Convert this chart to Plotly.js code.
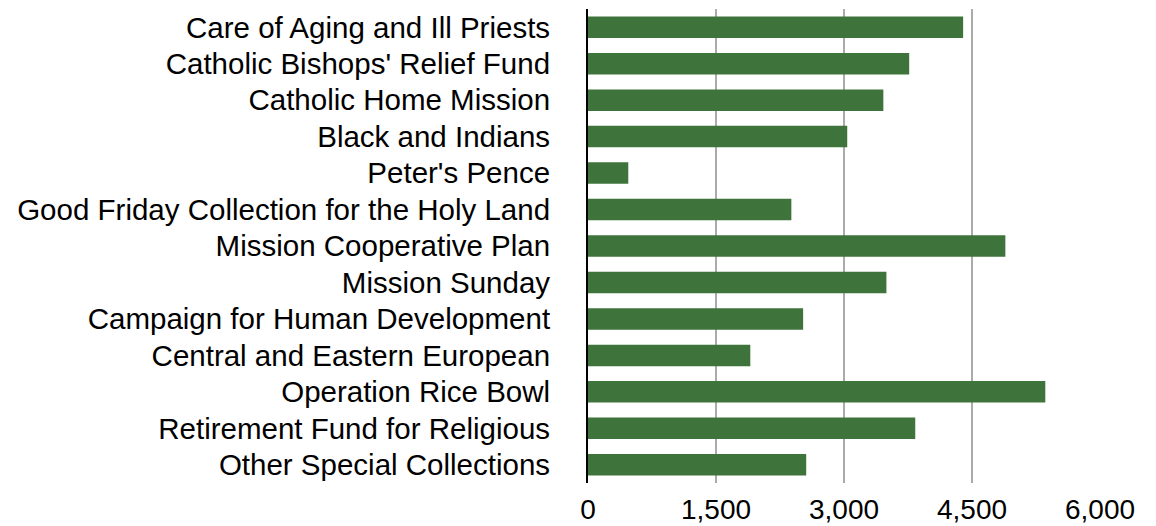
<!DOCTYPE html>
<html>
<head>
<meta charset="utf-8">
<script src="https://cdn.plot.ly/plotly-3.0.1.min.js"></script>
<style>html,body{margin:0;padding:0;background:#fff;}#chart{width:1156px;height:526px;}</style>
</head>
<body>
<div id="chart"></div>
<script>
const categories = [
  "Care of Aging and Ill Priests",
  "Catholic Bishops' Relief Fund",
  "Catholic Home Mission",
  "Black and Indians",
  "Peter's Pence",
  "Good Friday Collection for the Holy Land",
  "Mission Cooperative Plan",
  "Mission Sunday",
  "Campaign for Human Development",
  "Central and Eastern European",
  "Operation Rice Bowl",
  "Retirement Fund for Religious",
  "Other Special Collections"
];
const values = [4396, 3764, 3461, 3038, 472, 2383, 4891, 3497, 2521, 1902, 5359, 3835, 2557];
const tickValues = [0, 1500, 3000, 4500, 6000];
const tickLabels = ["0", "1,500", "3,000", "4,500", "6,000"];

const font = "Liberation Sans, Arial, Helvetica, sans-serif";
Plotly.newPlot("chart", [{
  type: "bar",
  orientation: "h",
  y: categories,
  x: values,
  marker: {color: "#3e743b"},
  hoverinfo: "none"
}], {
  width: 1156, height: 526,
  margin: {l: 588, r: 56, t: 9, b: 43, pad: 0},
  paper_bgcolor: "#fff", plot_bgcolor: "#fff",
  bargap: 0.41,
  showlegend: false,
  font: {family: font, size: 29.5, color: "#000"},
  xaxis: {
    range: [0, 6000],
    tickvals: tickValues,
    ticktext: tickLabels,
    showgrid: true, gridcolor: "#ababab", gridwidth: 2.5,
    zeroline: false, showline: false, ticks: "",
    ticklabelstandoff: 7,
    tickfont: {family: font, size: 28, color: "#000"}
  },
  yaxis: {
    type: "category",
    autorange: "reversed",
    showgrid: false, zeroline: false,
    showline: true, linecolor: "#000", linewidth: 2,
    ticks: "", ticklabelstandoff: 30,
    tickfont: {family: font, size: 29.5, color: "#000"}
  }
}, {staticPlot: true});
</script>
</body>
</html>
